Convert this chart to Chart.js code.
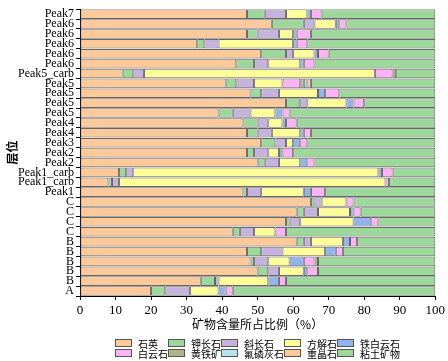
<!DOCTYPE html>
<html>
<head>
<meta charset="utf-8">
<script src="https://cdn.jsdelivr.net/npm/chart.js@4/dist/chart.umd.min.js"></script>
<style>
    body { margin: 0; background: #fff; }
    #wrap { position: relative; width: 448px; height: 361px; }
    #legend {
        position: absolute; left: 115px; top: 338px;
        display: grid; grid-template-columns: repeat(5, auto);
        font: 10px "Noto Sans CJK SC"; color: #000;
    }
    .item { display: flex; align-items: center; height: 10px; }
    .box { width: 15px; height: 6px; border: 1px solid #555; margin-right: 6px; }
</style>
</head>
<body>
<div id="wrap">
    <canvas id="mineral-chart" width="448" height="361"></canvas>
    <div id="legend"></div>
</div>
<script>
// layers, top to bottom
const layers = ['Peak7', 'Peak6', 'Peak6', 'Peak6', 'Peak6', 'Peak6', 'Peak5_carb', 'Peak5', 'Peak5', 'Peak5',
    'Peak5', 'Peak4', 'Peak4', 'Peak3', 'Peak2', 'Peak2', 'Peak1_carb', 'Peak1_carb', 'Peak1', 'C',
    'C', 'C', 'C', 'B', 'B', 'B', 'B', 'B', 'A'];

const minerals = ['石英', '钾长石', '斜长石', '方解石', '铁白云石', '白云石', '黄铁矿', '氟磷灰石', '重晶石', '粘土矿物'];
const colors = ['#ffc99a', '#9bd89a', '#c5b3dd', '#ffff99', '#8fb4ee', '#ffb3f5', '#b3b38c', '#b3e6ec', '#ffc99a', '#9bd89a'];

// percentages (%)
const quartz = [47, 54, 47, 33, 51, 44, 12, 41, 48, 58, 39, 46, 47, 51, 47, 50, 11, 8, 46, 65, 61, 58, 43, 61, 47, 48, 50, 34, 20];
const kFeldspar = [5, 9, 3, 2, 7, 5, 3, 3, 3, 4, 4, 4, 3, 4, 2, 2, 2, 1, 1, 1, 2, 1, 2, 2, 4, 1, 3, 4, 4];
const plagioclase = [6, 3, 6, 4, 2, 4, 3, 5, 5, 2, 5, 3, 4, 3, 4, 4, 2, 2, 4, 2, 4, 3, 4, 2, 6, 4, 3, 1, 7];
const calcite = [6, 6, 4, 21, 6, 9, 65, 8, 11, 11, 7, 4, 8, 2, 3, 6, 69, 75, 12, 7, 9, 15, 6, 9, 12, 6, 7, 14, 8];
const ankerite = [1, 1, 1, 1, 1, 1, 0, 0, 2, 2, 2, 1, 1, 2, 1, 2, 1, 0, 2, 0, 1, 5, 0, 2, 3, 4, 1, 3, 2];
const dolomite = [3, 2, 4, 3, 3, 3, 5, 5, 4, 3, 2, 3, 2, 2, 3, 2, 3, 1, 4, 2, 2, 2, 3, 2, 2, 3, 3, 2, 2];
const pyrite = [0, 0, 0, 0, 0, 0, 1, 1, 0, 0, 0, 0, 0, 0, 0, 0, 0, 0, 0, 0, 0, 0, 0, 0, 0, 1, 0, 0, 0];
const fluorapatite = [0, 0, 0, 0, 0, 0, 0, 1, 0, 0, 0, 0, 0, 0, 0, 0, 0, 0, 0, 0, 0, 0, 0, 0, 0, 0, 0, 0, 0];
const barite = [0, 0, 0, 0, 0, 0, 0, 1, 0, 0, 0, 0, 0, 0, 0, 0, 0, 0, 0, 0, 0, 0, 0, 0, 0, 0, 0, 0, 0];
const clay = [32, 25, 35, 36, 30, 34, 11, 35, 27, 20, 41, 39, 35, 36, 40, 34, 12, 13, 31, 23, 21, 16, 42, 22, 26, 33, 33, 42, 57];

const xTicks = [0, 10, 20, 30, 40, 50, 60, 70, 80, 90, 100];

const series = [quartz, kFeldspar, plagioclase, calcite, ankerite, dolomite, pyrite, fluorapatite, barite, clay];

const serif = 'Liberation Serif';
const cjk = 'Noto Sans CJK SC';

// Chart Data
let chartData = {
    labels: layers,
    datasets: series.map((values, i) => ({
        label: minerals[i],
        data: values,
        backgroundColor: colors[i],
        borderColor: '#666',
        borderWidth: 1,
        borderSkipped: false,
        barPercentage: 0.97,
        categoryPercentage: 1
    }))
};

// Chart Options
const chartOptions = {
    indexAxis: 'y',
    responsive: false,
    animation: false,
    layout: {
        padding: { left: 0, right: 12, top: 5, bottom: 28 }
    },
    plugins: {
        legend: { display: false },
        tooltip: { enabled: false }
    },
    scales: {
        x: {
            stacked: true,
            min: 0,
            max: 100,
            afterBuildTicks: scale => {
                scale.ticks = xTicks.map(v => ({ value: v }));
            },
            afterFit: scale => {
                scale.height = 37;
            },
            grid: { drawOnChartArea: false, drawTicks: true, tickLength: 4, tickColor: '#000' },
            border: { display: true, color: '#000', width: 1 },
            ticks: { color: '#000', padding: 3, maxRotation: 0, font: { family: serif, size: 13 } },
            title: {
                display: true,
                text: '矿物含量所占比例（%）',
                color: '#000',
                padding: { top: 0, bottom: 1 },
                font: { family: cjk, size: 12 }
            }
        },
        y: {
            stacked: true,
            afterFit: scale => {
                scale.width = 80;
            },
            grid: { drawOnChartArea: false, drawTicks: true, tickLength: 4, tickColor: '#000' },
            border: { display: true, color: '#000', width: 1 },
            ticks: { color: '#000', padding: 2, autoSkip: false, font: { family: serif, size: 12 } },
            title: {
                display: true,
                text: '层位',
                color: '#000',
                padding: { top: 5, bottom: 0 },
                font: { family: cjk, size: 12, weight: 'bold' }
            }
        }
    }
};

new Chart(document.getElementById('mineral-chart'), {
    type: 'bar',
    data: chartData,
    options: chartOptions
});

// legend in two rows of five
let legend = document.getElementById('legend');
minerals.forEach((name, i) => {
    let item = document.createElement('div');
    item.className = 'item';
    item.innerHTML = '<span class="box" style="background:' + colors[i] + '"></span><span>' + name + '</span>';
    legend.appendChild(item);
});
</script>
</body>
</html>
